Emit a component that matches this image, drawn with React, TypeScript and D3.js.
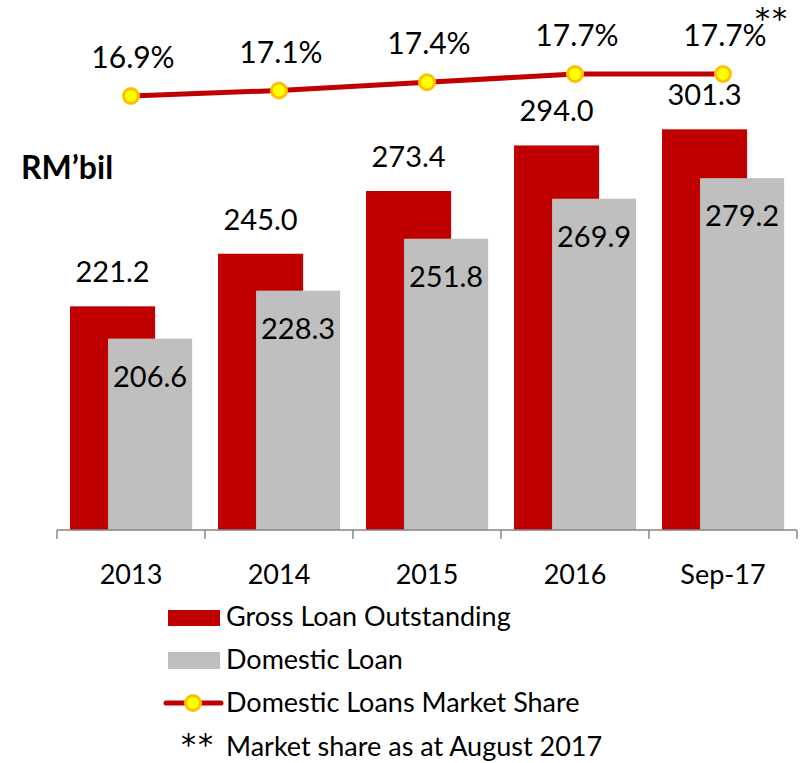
import React from 'react';
import * as d3 from 'd3';

const categories = ['2013', '2014', '2015', '2016', 'Sep-17'];
const grossLoan = [221.2, 245.0, 273.4, 294.0, 301.3];
const domesticLoan = [206.6, 228.3, 251.8, 269.9, 279.2];
const marketShare = [16.9, 17.1, 17.4, 17.7, 17.7];

const RED = '#C00000';
const GREY = '#BFBFBF';
const FONT = 'Lato, "Open Sans", sans-serif';
const STAR_FONT = '"DejaVu Sans", sans-serif';

export default function App() {
  const width = 801;
  const height = 763;

  // bands
  const x = d3.scaleBand().domain(categories).range([57, 797]).paddingInner(0).paddingOuter(0);
  const bw = x.bandwidth();
  // bars do not start at zero in the original
  const y = d3.scaleLinear().domain([120, 320]).range([530, 88]);
  // market share line
  const ys = d3.scaleLinear().domain([16.9, 17.7]).range([96, 74]);

  const redOff = bw * 0.088, redW = bw * 0.575;
  const greyOff = bw * 0.345, greyW = bw * 0.568;

  const line = d3.line<number>()
    .x((d, i) => x(categories[i])! + bw / 2)
    .y(d => ys(d));

  return (
    <svg width={width} height={height} style={{ position: 'absolute', left: 0, top: 0 }} fontFamily={FONT}>
      <rect width={width} height={height} fill="#fff" />

      {/* bars */}
      {categories.map((c, i) => (
        <g key={c}>
          <rect x={x(c)! + redOff} y={y(grossLoan[i])} width={redW} height={y(120) - y(grossLoan[i])} fill={RED} />
          <rect x={x(c)! + greyOff} y={y(domesticLoan[i])} width={greyW} height={y(120) - y(domesticLoan[i])} fill={GREY} />
          <text x={x(c)! + redOff + redW / 2} y={y(grossLoan[i]) - 24} textAnchor="middle" fontSize={29}>
            {grossLoan[i].toFixed(1)}
          </text>
          <text x={x(c)! + greyOff + greyW / 2} y={y(domesticLoan[i]) + 48} textAnchor="middle" fontSize={29}>
            {domesticLoan[i].toFixed(1)}
          </text>
        </g>
      ))}

      {/* axis */}
      <line x1={57} x2={797} y1={530} y2={530} stroke="#868686" strokeWidth={1.5} />
      {d3.range(categories.length + 1).map(i => (
        <line key={i} x1={57 + i * bw} x2={57 + i * bw} y1={530} y2={539} stroke="#868686" strokeWidth={1.5} />
      ))}
      {categories.map(c => (
        <text key={c} x={x(c)! + bw / 2} y={584} textAnchor="middle" fontSize={27}>{c}</text>
      ))}

      {/* market share line */}
      <path d={line(marketShare) || ''} fill="none" stroke={RED} strokeWidth={5} />
      {marketShare.map((v, i) => (
        <g key={i}>
          <circle cx={x(categories[i])! + bw / 2} cy={ys(v)} r={7.5} fill="#FFFF00" stroke="#FFC000" strokeWidth={3} />
          <text x={x(categories[i])! + bw / 2 + 2} y={ys(v) - 28} textAnchor="middle" fontSize={30}>{v.toFixed(1)}%</text>
        </g>
      ))}
      <text x={755} y={29} fontSize={30} letterSpacing={2} fontFamily={STAR_FONT}>**</text>

      <text x={21} y={179} fontSize={32} fontWeight="bold">RM’bil</text>

      {/* legend */}
      <rect x={168} y={610} width={52} height={16} fill={RED} />
      <text x={226} y={626} fontSize={27}>Gross Loan Outstanding</text>
      <rect x={168} y={652} width={52} height={17} fill={GREY} />
      <text x={226} y={669} fontSize={27}>Domestic Loan</text>
      <line x1={166} x2={221} y1={703} y2={703} stroke={RED} strokeWidth={5} strokeLinecap="round" />
      <circle cx={193} cy={703} r={7.5} fill="#FFFF00" stroke="#FFC000" strokeWidth={3} />
      <text x={226} y={712} fontSize={27}>Domestic Loans Market Share</text>
      <text x={181} y={755} fontSize={30} letterSpacing={2} fontFamily={STAR_FONT}>**</text>
      <text x={226} y={756} fontSize={27}>Market share as at August 2017</text>
    </svg>
  );
}
